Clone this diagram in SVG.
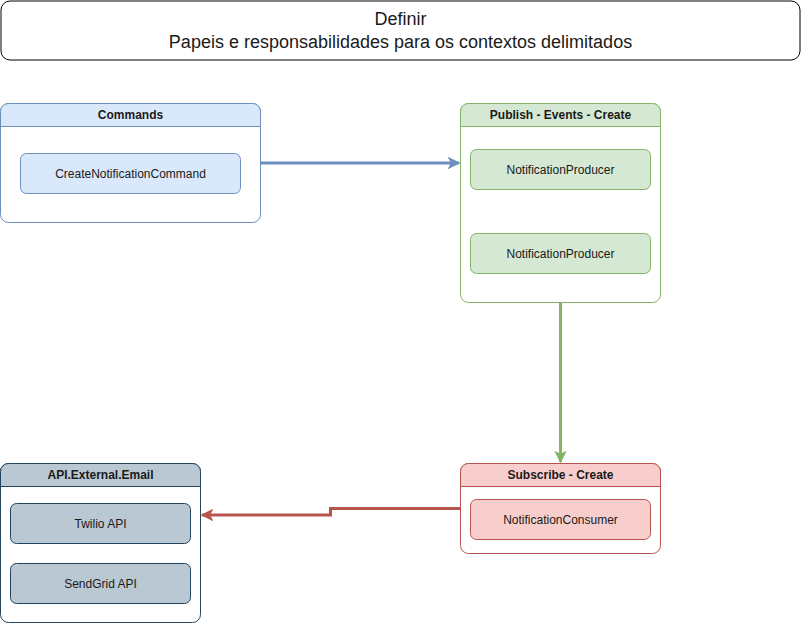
<svg xmlns="http://www.w3.org/2000/svg" width="801" height="624" viewBox="0 0 801 624">
<defs>
<style>
text{font-family:"Liberation Sans",Arial,Helvetica,sans-serif;fill:#1a1a1a;text-anchor:middle;dominant-baseline:central}
.h{font-size:12px;font-weight:bold}
.c{font-size:12px}
.t{font-size:18px}
.blue{fill:#dae8fc;stroke:#6c8ebf}
.green{fill:#d5e8d4;stroke:#82b366}
.red{fill:#f8cecc;stroke:#b85450}
.grey{fill:#bac8d3;stroke:#23445d}
.body{fill:#ffffff}
.conn{fill:none;stroke-width:3}
</style>
<marker id="ab" viewBox="0 0 10 10" refX="9" refY="5" markerWidth="4.2" markerHeight="4.2" orient="auto"><path d="M0,0 L10,5 L0,10 L2.5,5 Z" fill="#6c8ebf"/></marker>
<marker id="ag" viewBox="0 0 10 10" refX="9" refY="5" markerWidth="4.2" markerHeight="4.2" orient="auto"><path d="M0,0 L10,5 L0,10 L2.5,5 Z" fill="#82b366"/></marker>
<marker id="ar" viewBox="0 0 10 10" refX="9" refY="5" markerWidth="4.2" markerHeight="4.2" orient="auto"><path d="M0,0 L10,5 L0,10 L2.5,5 Z" fill="#b85450"/></marker>
</defs>

<g id="title">
<rect x="1" y="1" width="799" height="59" rx="9" fill="#ffffff" stroke="#000000"/>
<text class="t" x="400.5" y="19">Definir</text>
<text class="t" x="400.5" y="42">Papeis e responsabilidades para os contextos delimitados</text>
</g>

<g id="commands">
<rect class="blue body" x="0.5" y="103.5" width="260" height="119" rx="8"/>
<path class="blue" d="M0.5,126.5 V111.5 A8,8 0 0 1 8.5,103.5 H252.5 A8,8 0 0 1 260.5,111.5 V126.5 Z"/>
<text class="h" x="130.5" y="115">Commands</text>
<g id="createNotificationCommand">
<rect class="blue" x="20.5" y="153.5" width="220" height="40" rx="6"/>
<text class="c" x="130.5" y="173.5">CreateNotificationCommand</text>
</g>
</g>

<g id="publish">
<rect class="green body" x="460.5" y="103.5" width="200" height="199" rx="8"/>
<path class="green" d="M460.5,126.5 V111.5 A8,8 0 0 1 468.5,103.5 H652.5 A8,8 0 0 1 660.5,111.5 V126.5 Z"/>
<text class="h" x="560.5" y="115">Publish - Events - Create</text>
<g id="producer1">
<rect class="green" x="470.5" y="149.5" width="180" height="40" rx="6"/>
<text class="c" x="560.5" y="169.5">NotificationProducer</text>
</g>
<g id="producer2">
<rect class="green" x="470.5" y="233.5" width="180" height="40" rx="6"/>
<text class="c" x="560.5" y="253.5">NotificationProducer</text>
</g>
</g>

<g id="subscribe">
<rect class="red body" x="460.5" y="463.5" width="200" height="90" rx="8"/>
<path class="red" d="M460.5,486.5 V471.5 A8,8 0 0 1 468.5,463.5 H652.5 A8,8 0 0 1 660.5,471.5 V486.5 Z"/>
<text class="h" x="560.5" y="475">Subscribe - Create</text>
<g id="consumer">
<rect class="red" x="470.5" y="499.5" width="180" height="40" rx="6"/>
<text class="c" x="560.5" y="519.5">NotificationConsumer</text>
</g>
</g>

<g id="apiExternalEmail">
<rect class="grey body" x="0.5" y="463.5" width="200" height="159" rx="8"/>
<path class="grey" d="M0.5,486.5 V471.5 A8,8 0 0 1 8.5,463.5 H192.5 A8,8 0 0 1 200.5,471.5 V486.5 Z"/>
<text class="h" x="100.5" y="475">API.External.Email</text>
<g id="twilio">
<rect class="grey" x="10.5" y="503.5" width="180" height="40" rx="6"/>
<text class="c" x="100.5" y="523.5">Twilio API</text>
</g>
<g id="sendgrid">
<rect class="grey" x="10.5" y="563.5" width="180" height="40" rx="6"/>
<text class="c" x="100.5" y="583.5">SendGrid API</text>
</g>
</g>

<g id="connectors">
<path class="conn" stroke="#6c8ebf" d="M261,163 H459" marker-end="url(#ab)"/>
<path class="conn" stroke="#82b366" d="M560.5,303 V462" marker-end="url(#ag)"/>
<path class="conn" stroke="#b85450" d="M460,508.5 H330.5 V515 H202" marker-end="url(#ar)"/>
</g>
</svg>
